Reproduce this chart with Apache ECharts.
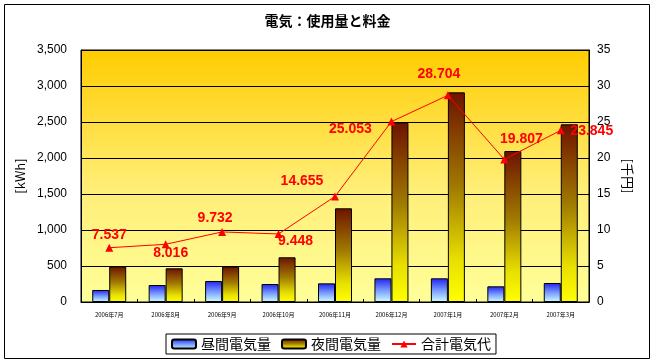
<!DOCTYPE html>
<html>
<head>
<meta charset="utf-8">
<script src="https://cdn.jsdelivr.net/npm/echarts@6/dist/echarts.min.js"></script>
<style>
html,body{margin:0;padding:0;background:#fff;}
#c{width:655px;height:364px;}
</style>
</head>
<body>
<div id="c"></div>
<script>
const categories = ['2006年7月','2006年8月','2006年9月','2006年10月','2006年11月','2006年12月','2007年1月','2007年2月','2007年3月'];
const dayUsage = [167, 236, 292, 250, 259, 329, 329, 218, 264];
const nightUsage = [495, 468, 492, 621, 1301, 2491, 2912, 2097, 2468];
const totalCost = [7.537, 8.016, 9.732, 9.448, 14.655, 25.053, 28.704, 19.807, 23.845];
const leftTicks = {min: 0, max: 3500, interval: 500};
const rightTicks = {min: 0, max: 35, interval: 5};

const labelOffsets = [[0,-13],[5,9],[-7,-14],[17,7],[-33,-15],[-41,8],[-9,-21],[17,-20],[31,1]];
const FONT = 'Liberation Sans, "Noto Sans CJK JP", sans-serif';
const JFONT = '"Noto Sans CJK JP", sans-serif';

const chart = echarts.init(document.getElementById('c'), null, {renderer: 'canvas'});
chart.setOption({
  animation: false,
  backgroundColor: '#ffffff',
  title: {
    text: '電気：使用量と料金',
    left: 'center', top: 14, padding: 0,
    textStyle: {fontFamily: JFONT, fontSize: 14, fontWeight: 'bold', color: '#000'}
  },
  graphic: [{
    type: 'rect', shape: {x: 4.5, y: 4.5, width: 645, height: 354},
    style: {fill: null, stroke: '#000', lineWidth: 1}, silent: true, z: 100
  }],
  grid: {
    left: 81, right: 66, top: 50, bottom: 62,
    show: true,
    backgroundColor: new echarts.graphic.LinearGradient(0, 0, 0, 1, [
      {offset: 0, color: '#FFCC00'},
      {offset: 0.55, color: '#FFEE77'},
      {offset: 1, color: '#FFFF99'}
    ]),
    borderColor: '#000', borderWidth: 1
  },
  legend: {
    left: 166, top: 334,
    padding: [3, 5, 3, 5],
    borderColor: '#000', borderWidth: 1,
    backgroundColor: '#fff',
    itemWidth: 24, itemHeight: 9, itemGap: 10,
    textStyle: {fontFamily: JFONT, fontSize: 14, color: '#000'},
    data: ['昼間電気量', '夜間電気量', '合計電気代']
  },
  xAxis: {
    type: 'category',
    data: categories,
    axisLine: {lineStyle: {color: '#000', width: 1}},
    axisTick: {show: true, inside: true, length: 3, lineStyle: {color: '#000'}},
    axisLabel: {fontFamily: JFONT, fontSize: 6, color: '#000', margin: 10, interval: 0},
    splitLine: {show: false}
  },
  yAxis: [{
    type: 'value',
    min: leftTicks.min, max: leftTicks.max, interval: leftTicks.interval,
    name: '[kWh]', nameLocation: 'middle', nameGap: 51, nameRotate: 90,
    nameTextStyle: {fontFamily: JFONT, fontSize: 13, color: '#000'},
    axisLine: {show: true, lineStyle: {color: '#000'}},
    axisTick: {show: true, inside: true, length: 4, lineStyle: {color: '#000'}},
    axisLabel: {fontFamily: FONT, fontSize: 12, color: '#000', margin: 14,
      formatter: v => v.toLocaleString('en-US')},
    splitLine: {show: true, lineStyle: {color: '#000', width: 1}}
  }, {
    type: 'value',
    min: rightTicks.min, max: rightTicks.max, interval: rightTicks.interval,
    name: '[千円]', nameLocation: 'middle', nameGap: 32, nameRotate: -90,
    nameTextStyle: {fontFamily: JFONT, fontSize: 13, color: '#000'},
    axisLine: {show: true, lineStyle: {color: '#000'}},
    axisTick: {show: true, inside: true, length: 4, lineStyle: {color: '#000'}},
    axisLabel: {fontFamily: FONT, fontSize: 12, color: '#000', margin: 8},
    splitLine: {show: false}
  }],
  series: [{
    name: '昼間電気量',
    type: 'bar',
    data: dayUsage,
    barWidth: 17,
    barGap: '0%',
    itemStyle: {
      color: new echarts.graphic.LinearGradient(0, 0, 0, 1, [
        {offset: 0, color: '#2222EE'},
        {offset: 0.5, color: '#7799FF'},
        {offset: 1, color: '#CCFFFF'}
      ]),
      borderColor: '#000', borderWidth: 1
    }
  }, {
    name: '夜間電気量',
    type: 'bar',
    data: nightUsage,
    barWidth: 17,
    barGap: '0%',
    itemStyle: {
      color: new echarts.graphic.LinearGradient(0, 0, 0, 1, [
        {offset: 0, color: '#6E1200'},
        {offset: 0.45, color: '#A07A00'},
        {offset: 0.8, color: '#E8E000'},
        {offset: 1, color: '#FFFF00'}
      ]),
      borderColor: '#000', borderWidth: 1
    }
  }, {
    name: '合計電気代',
    type: 'line',
    yAxisIndex: 1,
    z: 10,
    symbol: 'triangle',
    symbolSize: 8,
    lineStyle: {color: '#FF0000', width: 1},
    itemStyle: {color: '#FF0000'},
    data: totalCost.map((v, i) => ({
      value: v,
      label: {offset: labelOffsets[i]}
    })),
    label: {
      show: true,
      position: 'inside',
      color: '#FF0000',
      fontFamily: FONT,
      fontSize: 14,
      fontWeight: 'bold',
      formatter: p => p.value.toFixed(3)
    }
  }]
});
</script>
</body>
</html>
